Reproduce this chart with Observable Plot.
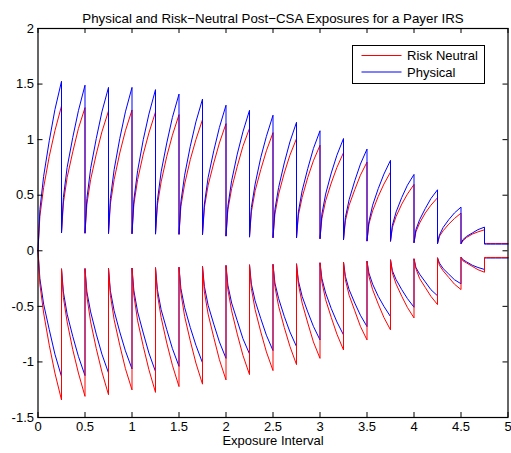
<!DOCTYPE html>
<html><head><meta charset="utf-8">
<script src="https://cdn.jsdelivr.net/npm/d3@7"></script>
<script src="https://cdn.jsdelivr.net/npm/@observablehq/plot@0.6"></script>
<style>
html,body{margin:0;padding:0;background:#fff;}
#chart svg{display:block;}
</style></head><body><div id="chart"></div>
<script>
const title = "Physical and Risk\u2212Neutral Post\u2212CSA Exposures for a Payer IRS";
const xLabel = "Exposure Interval";
const seriesNames = ["Risk Neutral", "Physical"];
const xTicks = [0, 0.5, 1, 1.5, 2, 2.5, 3, 3.5, 4, 4.5, 5];
const yTicks = [-1.5, -1, -0.5, 0, 0.5, 1, 1.5, 2];
const segmentStarts = [0,0.25,0.5,0.75,1,1.25,1.5,1.75,2,2.25,2.5,2.75,3,3.25,3.5,3.75,4,4.25,4.5,4.75];
const segmentOffsets = [0, 0.02, 0.06, 0.12, 0.18, 0.25];

const upperPhysical = [
[0, 0.37, 0.67, 0.99, 1.27, 1.525],
[0.16, 0.48, 0.75, 1.02, 1.26, 1.49],
[0.158, 0.47, 0.74, 1.01, 1.25, 1.47],
[0.155, 0.47, 0.73, 1.01, 1.25, 1.47],
[0.153, 0.46, 0.72, 1.0, 1.23, 1.45],
[0.15, 0.45, 0.71, 0.97, 1.2, 1.41],
[0.148, 0.44, 0.68, 0.94, 1.16, 1.365],
[0.145, 0.42, 0.66, 0.9, 1.11, 1.31],
[0.132, 0.4, 0.63, 0.87, 1.07, 1.264],
[0.123, 0.39, 0.6, 0.84, 1.03, 1.22],
[0.117, 0.37, 0.57, 0.79, 0.98, 1.156],
[0.115, 0.35, 0.54, 0.74, 0.92, 1.08],
[0.108, 0.33, 0.51, 0.7, 0.86, 1.01],
[0.099, 0.3, 0.46, 0.63, 0.78, 0.915],
[0.087, 0.26, 0.41, 0.56, 0.69, 0.814],
[0.085, 0.23, 0.35, 0.48, 0.59, 0.687],
[0.072, 0.19, 0.28, 0.38, 0.47, 0.549],
[0.063, 0.14, 0.21, 0.28, 0.34, 0.393],
[0.063, 0.1, 0.13, 0.16, 0.19, 0.213],
[0.06, 0.06, 0.06, 0.06, 0.06, 0.06]
];
const upperRiskNeutral = [
[0, 0.31, 0.57, 0.85, 1.08, 1.303],
[0.16, 0.43, 0.66, 0.89, 1.1, 1.288],
[0.158, 0.42, 0.64, 0.87, 1.07, 1.258],
[0.155, 0.42, 0.64, 0.88, 1.08, 1.267],
[0.153, 0.42, 0.64, 0.87, 1.06, 1.249],
[0.15, 0.41, 0.62, 0.85, 1.04, 1.225],
[0.148, 0.4, 0.6, 0.82, 1.0, 1.18],
[0.145, 0.39, 0.59, 0.79, 0.97, 1.144],
[0.132, 0.37, 0.56, 0.76, 0.94, 1.102],
[0.123, 0.35, 0.54, 0.73, 0.9, 1.063],
[0.117, 0.33, 0.51, 0.7, 0.86, 1.009],
[0.115, 0.32, 0.48, 0.66, 0.81, 0.949],
[0.108, 0.29, 0.45, 0.61, 0.75, 0.883],
[0.099, 0.27, 0.41, 0.55, 0.68, 0.798],
[0.087, 0.24, 0.36, 0.49, 0.6, 0.708],
[0.085, 0.21, 0.31, 0.42, 0.51, 0.597],
[0.072, 0.17, 0.25, 0.34, 0.41, 0.477],
[0.063, 0.13, 0.18, 0.24, 0.29, 0.339],
[0.063, 0.09, 0.12, 0.15, 0.17, 0.189],
[0.066, 0.066, 0.066, 0.066, 0.066, 0.066]
];
const lowerPhysical = [
[0, -0.25, -0.48, -0.71, -0.93, -1.132],
[-0.162, -0.37, -0.57, -0.77, -0.95, -1.123],
[-0.16, -0.37, -0.55, -0.75, -0.93, -1.099],
[-0.158, -0.36, -0.54, -0.73, -0.9, -1.063],
[-0.155, -0.36, -0.55, -0.74, -0.92, -1.087],
[-0.152, -0.35, -0.53, -0.71, -0.88, -1.04],
[-0.148, -0.34, -0.51, -0.69, -0.85, -1.008],
[-0.141, -0.32, -0.49, -0.66, -0.82, -0.968],
[-0.132, -0.31, -0.47, -0.63, -0.79, -0.928],
[-0.126, -0.3, -0.45, -0.61, -0.76, -0.898],
[-0.122, -0.29, -0.43, -0.59, -0.73, -0.862],
[-0.117, -0.27, -0.41, -0.55, -0.68, -0.802],
[-0.108, -0.25, -0.38, -0.52, -0.64, -0.757],
[-0.102, -0.23, -0.35, -0.47, -0.58, -0.682],
[-0.093, -0.2, -0.3, -0.41, -0.5, -0.592],
[-0.081, -0.18, -0.26, -0.35, -0.43, -0.508],
[-0.072, -0.15, -0.21, -0.28, -0.35, -0.405],
[-0.063, -0.11, -0.16, -0.21, -0.26, -0.297],
[-0.057, -0.08, -0.1, -0.13, -0.15, -0.168],
[-0.065, -0.065, -0.065, -0.065, -0.065, -0.065]
];
const lowerRiskNeutral = [
[0, -0.3, -0.56, -0.85, -1.1, -1.342],
[-0.162, -0.42, -0.64, -0.89, -1.1, -1.31],
[-0.16, -0.41, -0.64, -0.88, -1.09, -1.295],
[-0.158, -0.4, -0.62, -0.85, -1.06, -1.252],
[-0.155, -0.4, -0.63, -0.86, -1.07, -1.274],
[-0.152, -0.39, -0.6, -0.83, -1.03, -1.222],
[-0.148, -0.38, -0.59, -0.81, -1.01, -1.2],
[-0.141, -0.37, -0.57, -0.78, -0.98, -1.162],
[-0.132, -0.35, -0.54, -0.75, -0.94, -1.114],
[-0.126, -0.34, -0.53, -0.73, -0.91, -1.078],
[-0.122, -0.32, -0.5, -0.69, -0.86, -1.024],
[-0.117, -0.3, -0.47, -0.65, -0.82, -0.968],
[-0.108, -0.28, -0.44, -0.6, -0.75, -0.892],
[-0.102, -0.26, -0.4, -0.54, -0.68, -0.802],
[-0.093, -0.23, -0.35, -0.48, -0.6, -0.712],
[-0.081, -0.2, -0.3, -0.41, -0.51, -0.604],
[-0.072, -0.16, -0.25, -0.33, -0.41, -0.484],
[-0.063, -0.13, -0.18, -0.24, -0.3, -0.349],
[-0.057, -0.09, -0.11, -0.14, -0.17, -0.193],
[-0.06, -0.06, -0.06, -0.06, -0.06, -0.06]
];

function rows(segments) {
  const out = [];
  segments.forEach((seg, i) => seg.forEach((v, j) => out.push({x: segmentStarts[i] + segmentOffsets[j], y: v})));
  return out;
}

const W = 511, H = 453;
const mL = 37.5, mR = 3.5, mT = 28, mB = 36;
const innerW = W - mL - mR, innerH = H - mT - mB;
const tick = 5;
const font = "'Liberation Sans', Arial, Helvetica, sans-serif";
const red = "#ff0000", blue = "#0000ff";

const chart = Plot.plot({
  width: W, height: H,
  marginLeft: mL, marginRight: mR, marginTop: mT, marginBottom: mB,
  x: {domain: [0, 5]},
  y: {domain: [-1.5, 2]},
  style: {fontFamily: font, fontSize: "13px", background: "white", color: "black", overflow: "visible"},
  marks: [
    Plot.line(rows(upperRiskNeutral), {x: "x", y: "y", stroke: red, strokeWidth: 1}),
    Plot.line(rows(upperPhysical), {x: "x", y: "y", stroke: blue, strokeWidth: 1}),
    Plot.line(rows(lowerPhysical), {x: "x", y: "y", stroke: blue, strokeWidth: 1}),
    Plot.line(rows(lowerRiskNeutral), {x: "x", y: "y", stroke: red, strokeWidth: 1}),
    Plot.ruleX(xTicks, {x: d => d, insetTop: innerH - tick, stroke: "black"}),
    Plot.ruleX(xTicks, {x: d => d, insetBottom: innerH - tick, stroke: "black"}),
    Plot.ruleY(yTicks, {y: d => d, insetRight: innerW - tick, stroke: "black"}),
    Plot.ruleY(yTicks, {y: d => d, insetLeft: innerW - tick, stroke: "black"}),
    Plot.frame({stroke: "black", strokeWidth: 1.2}),
    Plot.axisX({ticks: xTicks, tickSize: 0, tickPadding: 4, tickFormat: d => String(d), label: null, fontSize: 13}),
    Plot.axisY({ticks: yTicks, tickSize: 0, tickPadding: 4, tickFormat: d => String(d), label: null, fontSize: 13}),
    Plot.text([title], {text: d => d, frameAnchor: "top", dy: -15, fontSize: 13.3}),
    Plot.text([xLabel], {text: d => d, frameAnchor: "bottom", dy: 27, fontSize: 13})
  ]
});
document.getElementById("chart").appendChild(chart);

// legend inside the axes (top-right), as in the reference
const svg = d3.select(chart);
const lg = svg.append("g").attr("font-family", font).attr("font-size", 13).attr("text-anchor", "start");
lg.append("rect").attr("x", 352.5).attr("y", 45.5).attr("width", 132).attr("height", 38)
  .attr("fill", "white").attr("stroke", "black").attr("stroke-width", 1);
const legendColors = [red, blue];
seriesNames.forEach((name, i) => {
  const cy = 55.5 + i * 16.5;
  lg.append("line").attr("x1", 361.5).attr("x2", 401.5).attr("y1", cy).attr("y2", cy)
    .attr("stroke", legendColors[i]).attr("stroke-width", 1.2);
  lg.append("text").attr("x", 407).attr("y", cy).attr("dy", "0.35em").attr("text-anchor", "start")
    .attr("fill", "black").text(name);
});
</script>
</body></html>
